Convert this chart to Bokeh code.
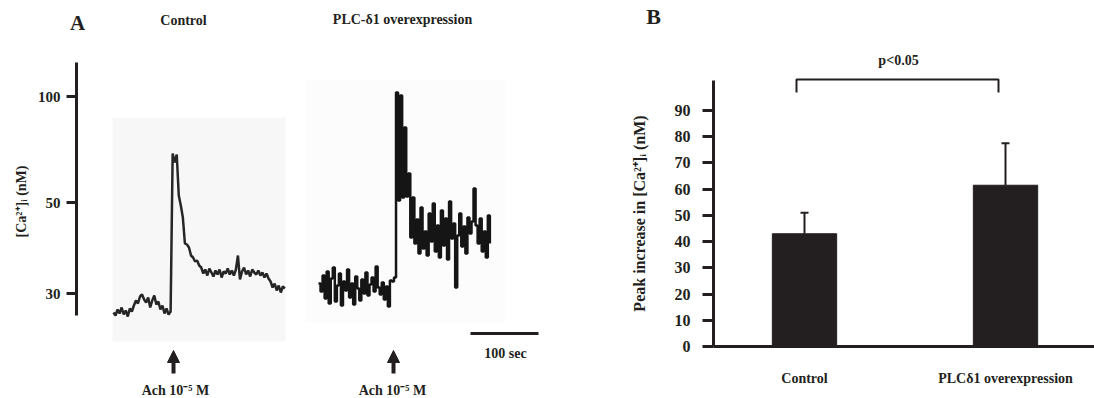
import math
import numpy as np
from bokeh.plotting import figure
from bokeh.models import (Range1d, FixedTicker, Arrow, NormalHead, Whisker, TeeHead,
                          ColumnDataSource)
from bokeh.layouts import row
from bokeh.embed import file_html
from bokeh.resources import INLINE
from bokeh.core.properties import value

# ---------------- data ----------------
# Panel A: fura-2 traces (time in s, signal in ratio units; ticks map ratio -> nM)
CTRL_T = list(range(0, 253, 3))
CTRL_R = [0.81, 0.78, 0.84, 0.80, 0.86, 0.79, 0.83, 0.77, 0.85, 0.82, 0.88,
          0.93, 0.90, 0.97, 0.99, 0.94, 0.91, 0.96, 0.86, 0.93, 0.98, 0.89, 0.92,
          0.84, 0.88, 0.80, 0.85, 0.79, 0.82,
          2.40, 2.31, 2.39, 1.98,
          1.88, 1.76, 1.50, 1.49, 1.46, 1.38, 1.36, 1.32, 1.33, 1.28,
          1.26, 1.20, 1.24, 1.18, 1.25, 1.21, 1.17, 1.23, 1.19, 1.24, 1.16, 1.22,
          1.20, 1.25, 1.19, 1.23, 1.18, 1.24, 1.38, 1.14, 1.22, 1.26, 1.19, 1.23,
          1.17, 1.24, 1.21, 1.19, 1.23, 1.18, 1.21, 1.16, 1.20, 1.15,
          1.12, 1.06, 1.10, 1.03, 1.08, 1.01, 1.07, 1.05]
PLC_T = list(range(0, 253, 3))
PLC_R = [1.10, 1.02, 1.18, 0.95, 1.22, 0.90, 1.15, 1.26, 0.92, 1.08,
         1.20, 0.88, 1.12, 1.03, 1.24, 0.96, 1.10, 0.89, 1.17, 1.05,
         0.93, 1.14, 1.00, 1.21, 0.98, 1.09, 1.16, 1.02, 1.27, 1.06,
         0.99, 1.11, 0.94, 1.07, 0.87, 1.13, 1.12,
         1.16,
         3.01, 1.93, 2.98, 1.96, 2.66, 1.97, 2.20,
         1.56, 1.96, 1.50, 1.74, 1.40, 1.86, 1.45, 1.62, 1.38, 1.80,
         1.52, 1.90, 1.42, 1.68, 1.36, 1.83, 1.48, 1.75, 1.34, 1.92,
         1.55, 1.70, 1.06, 1.58, 1.80, 1.47, 1.67, 1.40, 1.76, 1.60,
         1.72, 2.05, 1.68, 1.50, 1.75, 1.42, 1.62, 1.36, 1.78, 1.50]
A_TICKS = [1.00, 1.91, 2.97]
A_TICK_LABELS = ["30", "50", "100"]
SCALE_BAR_S = 100

# Panel B: peak increase
CATEGORIES = ["Control", "PLC\u03b41 overexpression"]
PEAK_MEAN = [43.0, 61.5]
PEAK_ERR = [8.0, 16.0]
B_TICKS = [0, 10, 20, 30, 40, 50, 60, 70, 80, 90]

# ---------------- style ----------------
INK = "#231f20"
SERIF = value("Liberation Serif")
H = 398
A_W = 560
B_W = 534


def txt(p, x, y, s, size, angle=0.0):
    p.text(x=[x], y=[y], text=[s], text_font=SERIF, text_font_style="bold",
           text_font_size=size, text_color=INK, text_align="center",
           text_baseline="middle", angle=angle)


def style_axis(ax, size="15px"):
    ax.axis_line_width = 3
    ax.axis_line_color = INK
    ax.major_tick_line_width = 3
    ax.major_tick_line_color = INK
    ax.minor_tick_in = 0
    ax.minor_tick_out = 0
    ax.major_tick_in = 0
    ax.major_label_text_font = "Liberation Serif"
    ax.major_label_text_font_style = "bold"
    ax.major_label_text_font_size = size
    ax.major_label_text_color = INK


# ---------------- panel A ----------------
def ax_(px):  # picture px -> seconds
    return (px - 113) / 0.68


def ay_(py):  # picture px -> ratio units
    return 1 + (293 - py) / 100


pA = figure(width=A_W, height=H, x_range=Range1d(ax_(0), ax_(A_W)),
            y_range=Range1d(ay_(H), ay_(0)), output_backend="svg",
            toolbar_location=None, min_border=0, x_axis_location=None,
            outline_line_color=None, background_fill_color="white")
pA.xgrid.visible = False
pA.ygrid.visible = False

# faint scanned backgrounds of the recordings
pA.quad(left=[ax_(112)], right=[ax_(285)], bottom=[ay_(341)], top=[ay_(117)],
        fill_color="#f7f7f7", line_color=None)
pA.quad(left=[ax_(305)], right=[ax_(505)], bottom=[ay_(322)], top=[ay_(80)],
        fill_color="#fcfcfc", line_color=None)

ctrl_x = np.array(CTRL_T, dtype=float) + ax_(113)
plc_x = np.array(PLC_T, dtype=float) + ax_(318)
pA.line(ctrl_x, CTRL_R, line_width=2.5, line_color="#262626")
pA.step(plc_x, PLC_R, mode="after", line_width=2.5, line_color="#151515")

yA = pA.yaxis[0]
yA.fixed_location = ax_(76)
yA.bounds = (ay_(315), ay_(62))
yA.ticker = FixedTicker(ticks=A_TICKS)
yA.major_label_overrides = dict(zip(A_TICKS, A_TICK_LABELS))
style_axis(yA)
yA.major_tick_out = 10
yA.major_label_standoff = 6

txt(pA, ax_(21), ay_(201), "[Ca\u00b2\u207a]\u1d62 (nM)", "14px", angle=math.pi / 2)
txt(pA, ax_(77), ay_(22), "A", "21px")
txt(pA, ax_(183), ay_(20), "Control", "14px")
txt(pA, ax_(402), ay_(19), "PLC-\u03b41 overexpression", "14px")

for xa in (173, 393):
    pA.add_layout(Arrow(end=NormalHead(size=12, fill_color=INK, line_color=INK),
                        x_start=ax_(xa), y_start=ay_(373), x_end=ax_(xa), y_end=ay_(350),
                        line_width=4, line_color=INK))
txt(pA, ax_(175), ay_(390), "Ach 10\u207b\u2075 M", "14px")
txt(pA, ax_(392), ay_(390), "Ach 10\u207b\u2075 M", "14px")

pA.line([ax_(470), ax_(470) + SCALE_BAR_S], [ay_(333), ay_(333)], line_width=3, line_color=INK)
txt(pA, ax_(505), ay_(353), "100 sec", "14px")

# ---------------- panel B ----------------
B_X0 = A_W  # picture px where panel B starts


def bx_(px):
    return 1 + (px - 804) / 201


def by_(py):
    return (346 - py) / 2.622


pB = figure(width=B_W, height=H, x_range=Range1d(bx_(B_X0), bx_(B_X0 + B_W)),
            y_range=Range1d(by_(H), by_(0)), output_backend="svg",
            toolbar_location=None, min_border=0, outline_line_color=None,
            background_fill_color="white")
pB.xgrid.visible = False
pB.ygrid.visible = False

pos = [i + 1 for i in range(len(CATEGORIES))]
pB.vbar(x=pos, top=PEAK_MEAN, width=0.32, fill_color=INK, line_color=INK)
src = ColumnDataSource(dict(x=pos, upper=[m + e for m, e in zip(PEAK_MEAN, PEAK_ERR)],
                            lower=PEAK_MEAN))
pB.add_layout(Whisker(base="x", upper="upper", lower="lower", source=src,
                      upper_head=TeeHead(size=8, line_width=2, line_color=INK),
                      lower_head=None, line_width=2, line_color=INK))

xB = pB.xaxis[0]
xB.fixed_location = 0
xB.bounds = (bx_(713), bx_(B_X0 + B_W))
xB.ticker = FixedTicker(ticks=pos)
xB.major_label_overrides = dict(zip(pos, CATEGORIES))
style_axis(xB, "14px")
xB.major_tick_out = 0
xB.major_label_standoff = 24

yB = pB.yaxis[0]
yB.fixed_location = bx_(713)
yB.bounds = (0, by_(80))
yB.ticker = FixedTicker(ticks=B_TICKS)
style_axis(yB, "16px")
yB.major_tick_out = 11
yB.major_label_standoff = 12
yB.axis_label = "Peak increase in [Ca\u00b2\u207a]\u1d62 (nM)"
yB.axis_label_text_font = "Liberation Serif"
yB.axis_label_text_font_style = "bold"
yB.axis_label_text_font_size = "16px"
yB.axis_label_text_color = INK
yB.axis_label_standoff = 24

# significance bracket
bl, br = bx_(796), bx_(998)
pB.line([bl, bl, br, br], [by_(92), by_(79), by_(79), by_(92)], line_width=2, line_color=INK)
txt(pB, bx_(898), by_(60), "p<0.05", "14px")
txt(pB, bx_(653), by_(15.5), "B", "22px")

layout = row(pA, pB)
open("out.html", "w").write(file_html(layout, INLINE))
